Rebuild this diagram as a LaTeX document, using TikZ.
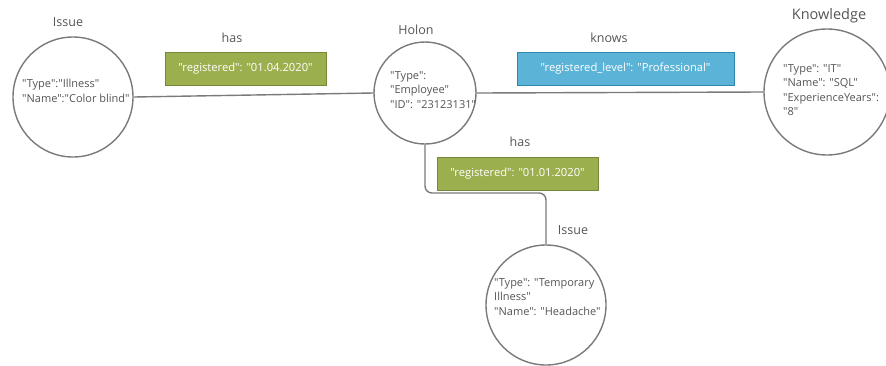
\documentclass[tikz,border=0pt]{standalone}
\usepackage{fontspec}
% a plain family keeps straight quotation marks
\newfontfamily\opensans{Open Sans}
\definecolor{ink}{HTML}{555555}
\definecolor{edge}{HTML}{7A7A7A}
\definecolor{greenfill}{HTML}{9BAF4E}
\definecolor{greenline}{HTML}{76893A}
\definecolor{bluefill}{HTML}{5BB4D8}
\definecolor{blueline}{HTML}{2F86AE}
\begin{document}
\begin{tikzpicture}[x=1pt,y=-1pt,
  entity/.style={circle,draw=edge,line width=1.4pt,fill=white,inner sep=0pt},
  props/.style={align=left,text=ink,font=\opensans\fontsize{11}{14.5}\selectfont,inner sep=0pt,anchor=north west},
  caption/.style={text=ink,font=\opensans\fontsize{12.5}{15}\selectfont,inner sep=0pt},
  attrbox/.style={draw,line width=1pt,text=white,font=\opensans\fontsize{11.2}{13}\selectfont,inner sep=0pt,minimum height=33pt},
  greenbox/.style={attrbox,fill=greenfill,draw=greenline},
  bluebox/.style={attrbox,fill=bluefill,draw=blueline},
  link/.style={draw=edge,line width=1.4pt}]
\useasboundingbox (0,0) rectangle (886,365);

% entities
\node[entity,minimum size=120pt] (issueA) at (73,97) {};
\node[entity,minimum size=102pt] (holon) at (425,93) {};
\node[entity,minimum size=126pt] (know) at (827,92) {};
\node[entity,minimum size=120pt] (issueB) at (546,305) {};

% relations
\draw[link] (issueA.east) -- (holon.west);
\draw[link] (holon.east) -- (know.west);
\coordinate (bendA) at (holon.south |- 0,193);
\coordinate (bendB) at (issueB.north |- 0,193);
\draw[link,rounded corners=7pt] (holon.south) -- (bendA) -- (bendB) -- (issueB.north);

% entity properties
\node[props] (issueA-txt) at (22,79) {"Type":"Illness"\\ "Name":"Color blind"};
\node[props] (holon-txt) at (390,71) {"Type":\\ "Employee"\\ "ID": "23123131"};
\node[props] (know-txt) at (783,64) {"Type": "IT"\\ "Name": "SQL"\\ "ExperienceYears":\\ "8"};
\node[props] (issueB-txt) at (494,278) {"Type": "Temporary\\ Illness"\\ "Name": "Headache"};

% entity titles
\node[caption] (issueA-lbl) at (68,22) {Issue};
\node[caption] (holon-lbl) at (416,30) {Holon};
\node[caption,font=\opensans\fontsize{14.5}{17}\selectfont] (know-lbl) at (829,16) {Knowledge};
\node[caption] (issueB-lbl) at (573,230) {Issue};

% relation titles and attributes
\node[caption] (hasA-lbl) at (232,38) {has};
\node[greenbox,minimum width=161pt] (hasA) at (245.5,69) {"registered": "01.04.2020"};
\node[caption] (knows-lbl) at (609,38) {knows};
\node[bluebox,minimum width=217pt] (knows) at (625.5,69) {"registered\_level": "Professional"};
\node[caption] (hasB-lbl) at (520,142) {has};
\node[greenbox,minimum width=161pt] (hasB) at (517.5,173.5) {"registered": "01.01.2020"};
\end{tikzpicture}
\end{document}
